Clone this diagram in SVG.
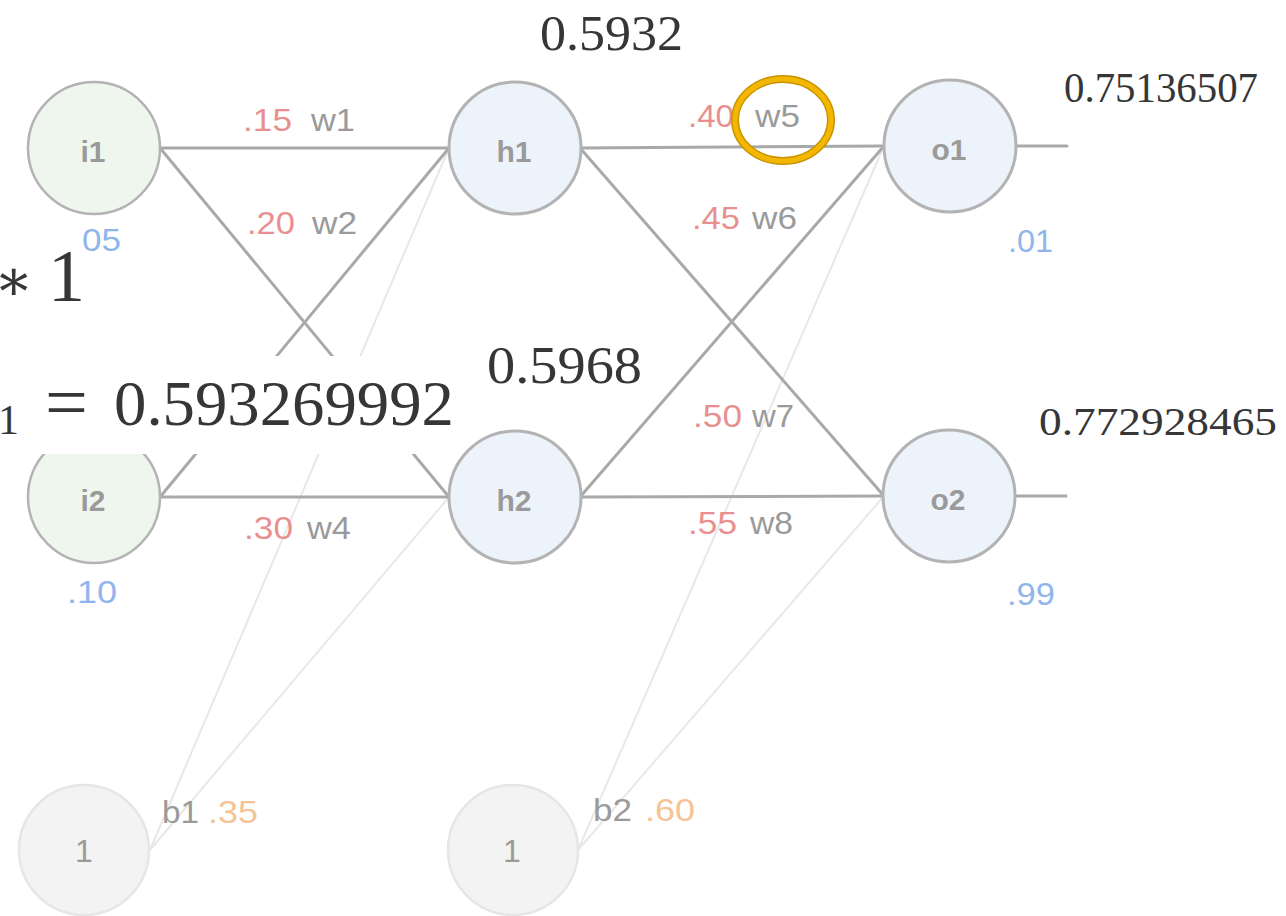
<svg xmlns="http://www.w3.org/2000/svg" width="1286" height="916" viewBox="0 0 1286 916">
<style>
.edge{stroke:#a9a9a9;stroke-width:3;fill:none;stroke-linecap:round}
.bias{stroke:#e8e8e8;stroke-width:2;fill:none}
.nin{fill:#eff6ee;stroke:#b3b3b3;stroke-width:2.5}
.nho{fill:#edf3fb;stroke:#b3b3b3;stroke-width:3}
.nb{fill:#f3f3f3;stroke:#e6e6e6;stroke-width:2.5}
.nl{font-family:"Liberation Sans",Arial,sans-serif;font-weight:bold;font-size:30px;fill:#9a9a9a;text-anchor:middle}
.bl{font-family:"Liberation Sans",Arial,sans-serif;font-size:32px;fill:#9a9a9a;text-anchor:middle}
.wv{font-family:"Liberation Sans",Arial,sans-serif;font-size:31px;fill:#e98f8f}
.wn{font-family:"Liberation Sans",Arial,sans-serif;font-size:31px;fill:#9a9a9a}
.iv{font-family:"Liberation Sans",Arial,sans-serif;font-size:31px;fill:#8fb5ec}
.bv{font-family:"Liberation Sans",Arial,sans-serif;font-size:31px;fill:#f5c395}
.math{font-family:"Liberation Serif","DejaVu Serif",serif;fill:#363636}
</style>
<g id="connectors">
<line class="bias" x1="150" y1="850" x2="449" y2="148"/>
<line class="bias" x1="150" y1="850" x2="449" y2="497"/>
<line class="bias" x1="578" y1="850" x2="884" y2="146"/>
<line class="bias" x1="578" y1="850" x2="884" y2="496"/>
<line class="edge" x1="160" y1="148" x2="449" y2="148"/>
<line class="edge" x1="160" y1="148" x2="449" y2="497"/>
<line class="edge" x1="160" y1="497" x2="449" y2="148"/>
<line class="edge" x1="160" y1="497" x2="449" y2="497"/>
<line class="edge" x1="580" y1="148" x2="884" y2="146"/>
<line class="edge" x1="580" y1="148" x2="884" y2="496"/>
<line class="edge" x1="580" y1="497" x2="884" y2="146"/>
<line class="edge" x1="580" y1="497" x2="884" y2="496"/>
<line class="edge" x1="1016" y1="146" x2="1067" y2="146"/>
<line class="edge" x1="1015" y1="496" x2="1066" y2="496"/>
</g>
<g id="edge-labels">
<text class="wv" x="243" y="131" textLength="49" lengthAdjust="spacingAndGlyphs">.15</text>
<text class="wn" x="311" y="131" textLength="44" lengthAdjust="spacingAndGlyphs">w1</text>
<text class="wv" x="247" y="234" textLength="48" lengthAdjust="spacingAndGlyphs">.20</text>
<text class="wn" x="312" y="234" textLength="45" lengthAdjust="spacingAndGlyphs">w2</text>
<text class="wv" x="244" y="539" textLength="49" lengthAdjust="spacingAndGlyphs">.30</text>
<text class="wn" x="307" y="539" textLength="44" lengthAdjust="spacingAndGlyphs">w4</text>
<text class="wv" x="688" y="127" textLength="46" lengthAdjust="spacingAndGlyphs">.40</text>
<text class="wn" x="755" y="127" textLength="45" lengthAdjust="spacingAndGlyphs">w5</text>
<text class="wv" x="692" y="229" textLength="48" lengthAdjust="spacingAndGlyphs">.45</text>
<text class="wn" x="752" y="229" textLength="45" lengthAdjust="spacingAndGlyphs">w6</text>
<text class="wv" x="693" y="427" textLength="49" lengthAdjust="spacingAndGlyphs">.50</text>
<text class="wn" x="752" y="427" textLength="42" lengthAdjust="spacingAndGlyphs">w7</text>
<text class="wv" x="688" y="534" textLength="49" lengthAdjust="spacingAndGlyphs">.55</text>
<text class="wn" x="750" y="534" textLength="43" lengthAdjust="spacingAndGlyphs">w8</text>
</g>
<g id="i1"><circle class="nin" cx="94" cy="148" r="66"/><text class="nl" x="93" y="162">i1</text><text class="iv" x="82" y="251" textLength="39" lengthAdjust="spacingAndGlyphs">05</text></g>
<g id="i2"><circle class="nin" cx="94" cy="497" r="66"/><text class="nl" x="93" y="511">i2</text><text class="iv" x="67" y="603" textLength="50" lengthAdjust="spacingAndGlyphs">.10</text></g>
<g id="h1"><circle class="nho" cx="515" cy="148" r="66"/><text class="nl" x="514" y="162">h1</text></g>
<g id="h2"><circle class="nho" cx="515" cy="497" r="66"/><text class="nl" x="514" y="511">h2</text></g>
<g id="o1"><circle class="nho" cx="950" cy="146" r="66"/><text class="nl" x="949" y="160">o1</text><text class="iv" x="1008" y="252" textLength="45" lengthAdjust="spacingAndGlyphs">.01</text></g>
<g id="o2"><circle class="nho" cx="949" cy="496" r="66"/><text class="nl" x="948" y="510">o2</text><text class="iv" x="1007" y="605" textLength="48" lengthAdjust="spacingAndGlyphs">.99</text></g>
<g id="b1"><circle class="nb" cx="84" cy="850" r="65"/><text class="bl" x="84" y="862">1</text><text class="wn" x="162" y="823" textLength="37" lengthAdjust="spacingAndGlyphs">b1</text><text class="bv" x="208" y="823" textLength="50" lengthAdjust="spacingAndGlyphs">.35</text></g>
<g id="b2"><circle class="nb" cx="513" cy="850" r="65"/><text class="bl" x="512" y="862">1</text><text class="wn" x="593" y="821" textLength="39" lengthAdjust="spacingAndGlyphs">b2</text><text class="bv" x="645" y="821" textLength="50" lengthAdjust="spacingAndGlyphs">.60</text></g>
<g id="overlay">
<rect x="0" y="356" width="458" height="98" fill="#ffffff"/>
<text class="math" x="-2" y="434" font-size="42">1</text>
<text class="math" x="45" y="428" font-size="76">=</text>
<text class="math" x="114" y="425" font-size="64" textLength="340" lengthAdjust="spacingAndGlyphs">0.593269992</text>
<text x="-6" y="300" font-size="58" fill="#363636" font-family="DejaVu Serif,serif">∗</text>
<text class="math" x="48" y="301" font-size="74">1</text>
</g>
<g id="values">
<text class="math" x="540" y="50" font-size="50" textLength="143" lengthAdjust="spacingAndGlyphs">0.5932</text>
<text class="math" x="487" y="383" font-size="52" textLength="155" lengthAdjust="spacingAndGlyphs">0.5968</text>
<text class="math" x="1064" y="102" font-size="42" textLength="194" lengthAdjust="spacingAndGlyphs">0.75136507</text>
<text class="math" x="1039" y="435" font-size="40" textLength="238" lengthAdjust="spacingAndGlyphs">0.772928465</text>
</g>
<g id="highlight">
<ellipse cx="783" cy="120" rx="48" ry="41" fill="none" stroke="#c99300" stroke-width="8"/>
<ellipse cx="783" cy="120" rx="48" ry="41" fill="none" stroke="#f4b700" stroke-width="5"/>
</g>
</svg>
